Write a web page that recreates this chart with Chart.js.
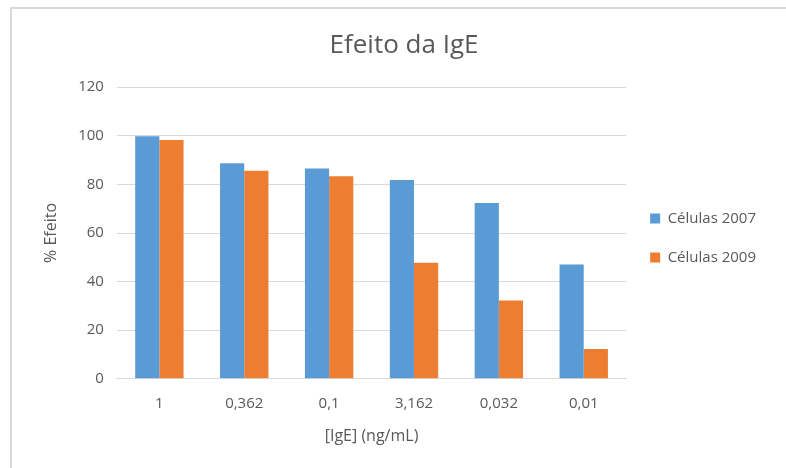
<!DOCTYPE html>
<html>
<head>
<meta charset="utf-8">
<script src="https://cdn.jsdelivr.net/npm/chart.js@4/dist/chart.umd.min.js"></script>
<style>
  html, body { margin: 0; padding: 0; background: #ffffff; }
  #wrap { position: relative; width: 786px; height: 468px; }
</style>
</head>
<body>
<div id="wrap"><canvas id="chart" width="786" height="468"></canvas></div>
<script>
// IgE concentrations (ng/mL), in the order they were tested
const categories = ['1', '0,362', '0,1', '3,162', '0,032', '0,01'];
const cells2007 = [99.8, 88.7, 86.5, 81.8, 72.3, 47.0];
const cells2009 = [98.3, 85.6, 83.4, 47.8, 32.2, 12.3];
const yTicks = [0, 20, 40, 60, 80, 100, 120];

const TEXT = '#595959';
const GRID = '#d9d9d9';
const FONT = "'Open Sans', 'Liberation Sans', sans-serif";

// light frame around the chart (left and top edges)
const framePlugin = {
  id: 'frame',
  beforeDraw(chart) {
    const ctx = chart.ctx;
    ctx.save();
    ctx.strokeStyle = GRID;
    ctx.lineWidth = 2;
    ctx.beginPath();
    ctx.moveTo(11, chart.height);
    ctx.lineTo(11, 8);
    ctx.lineTo(chart.width, 8);
    ctx.stroke();
    ctx.restore();
  }
};

new Chart(document.getElementById('chart'), {
  type: 'bar',
  data: {
    labels: categories,
    datasets: [
      { label: 'Células 2007', data: cells2007, backgroundColor: '#5B9BD5', borderWidth: 0 },
      { label: 'Células 2009', data: cells2009, backgroundColor: '#ED7D31', borderWidth: 0 }
    ]
  },
  options: {
    responsive: false,
    animation: false,
    categoryPercentage: 0.57,
    barPercentage: 1.0,
    layout: { padding: { top: 30, left: 42, right: 20, bottom: 22 } },
    plugins: {
      title: {
        display: true,
        text: 'Efeito da IgE',
        color: TEXT,
        font: { family: FONT, size: 26, weight: 'normal' },
        padding: { top: 0, bottom: 26 }
      },
      legend: {
        position: 'right',
        labels: {
          color: TEXT,
          font: { family: FONT, size: 15 },
          boxWidth: 10,
          boxHeight: 10,
          padding: 24
        }
      },
      tooltip: { enabled: false }
    },
    scales: {
      x: {
        grid: { display: false },
        border: { display: true, color: GRID, width: 1 },
        ticks: { color: TEXT, font: { family: FONT, size: 15 }, padding: 8 },
        title: {
          display: true,
          text: '[IgE] (ng/mL)',
          color: TEXT,
          font: { family: FONT, size: 16 },
          padding: { top: 6, bottom: 0 }
        }
      },
      y: {
        min: 0,
        max: 120,
        afterBuildTicks(axis) { axis.ticks = yTicks.map(v => ({ value: v })); },
        grid: { color: GRID, lineWidth: 1, drawTicks: false },
        border: { display: false },
        ticks: { color: TEXT, font: { family: FONT, size: 15 }, padding: 13 },
        title: {
          display: true,
          text: '% Efeito',
          color: TEXT,
          font: { family: FONT, size: 16 },
          padding: { top: 0, bottom: 4 }
        }
      }
    }
  },
  plugins: [framePlugin]
});
</script>
</body>
</html>
